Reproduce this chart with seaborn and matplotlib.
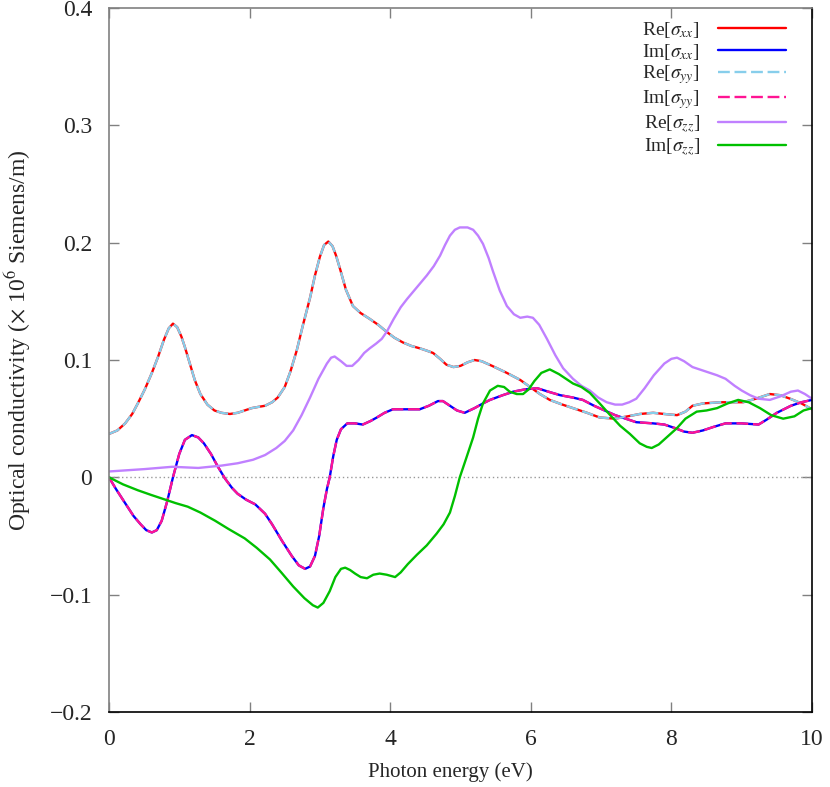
import matplotlib
matplotlib.use("Agg")
import matplotlib.pyplot as plt
import seaborn as sns
import pandas as pd

# values (photon energy in eV, conductivity in 1e6 S/m)
re_xx_e = [0.0, 0.12, 0.23, 0.33, 0.41, 0.51, 0.61, 0.7, 0.78, 0.85, 0.91, 0.97, 1.03, 1.08,
           1.15, 1.22, 1.3, 1.4, 1.5, 1.6, 1.72, 1.83, 1.93, 2.03, 2.12, 2.22, 2.32, 2.4, 2.5,
           2.58, 2.67, 2.76, 2.86, 2.93, 3.0, 3.06, 3.12, 3.18, 3.23, 3.29, 3.37, 3.47, 3.58,
           3.71, 3.83, 3.95, 4.06, 4.18, 4.3, 4.42, 4.52, 4.61, 4.71, 4.8, 4.9, 5.0, 5.1, 5.2,
           5.3, 5.45, 5.66, 5.85, 5.99, 6.13, 6.27, 6.45, 6.6, 6.8, 6.98, 7.2, 7.38, 7.55,
           7.74, 7.9, 8.08, 8.2, 8.3, 8.45, 8.7, 9.02, 9.2, 9.4, 9.55, 9.69, 9.85, 10.0]
re_xx = [0.037, 0.040, 0.046, 0.054, 0.063, 0.075, 0.089, 0.103, 0.117, 0.127, 0.131, 0.128,
         0.120, 0.111, 0.097, 0.083, 0.071, 0.062, 0.057, 0.055, 0.054, 0.055, 0.057, 0.059,
         0.060, 0.061, 0.064, 0.068, 0.077, 0.090, 0.108, 0.130, 0.153, 0.172, 0.188, 0.198,
         0.201, 0.197, 0.189, 0.177, 0.160, 0.146, 0.140, 0.135, 0.130, 0.124, 0.119, 0.115,
         0.112, 0.110, 0.108, 0.106, 0.101, 0.096, 0.094, 0.095, 0.098, 0.100, 0.099, 0.095,
         0.089, 0.083, 0.077, 0.071, 0.066, 0.062, 0.059, 0.055, 0.051, 0.050, 0.052, 0.054,
         0.055, 0.054, 0.053, 0.056, 0.061, 0.063, 0.064, 0.064, 0.067, 0.071, 0.070, 0.067,
         0.063, 0.058]

im_xx_e = [0.0, 0.1, 0.23, 0.35, 0.45, 0.53, 0.61, 0.68, 0.75, 0.83, 0.91, 1.0, 1.08, 1.18,
           1.27, 1.35, 1.45, 1.55, 1.65, 1.75, 1.83, 1.95, 2.08, 2.15, 2.22, 2.32, 2.46, 2.6,
           2.7, 2.79, 2.86, 2.93, 2.99, 3.05, 3.1, 3.14, 3.19, 3.24, 3.3, 3.39, 3.5, 3.61,
           3.72, 3.81, 3.92, 4.04, 4.2, 4.42, 4.55, 4.68, 4.75, 4.85, 4.95, 5.06, 5.2, 5.32,
           5.42, 5.6, 5.75, 5.92, 6.09, 6.25, 6.42, 6.6, 6.74, 6.9, 7.05, 7.2, 7.35, 7.5,
           7.74, 7.9, 8.05, 8.18, 8.3, 8.45, 8.6, 8.77, 9.0, 9.24, 9.35, 9.5, 9.7, 9.85, 10.0]
im_xx = [0.0, -0.010, -0.022, -0.033, -0.040, -0.045, -0.047, -0.045, -0.037, -0.020, 0.0,
         0.020, 0.032, 0.036, 0.034, 0.029, 0.020, 0.009, -0.001, -0.009, -0.014, -0.019,
         -0.023, -0.027, -0.031, -0.040, -0.054, -0.067, -0.075, -0.078, -0.076, -0.067,
         -0.050, -0.026, -0.010, 0.0, 0.018, 0.032, 0.041, 0.046, 0.046, 0.045, 0.048, 0.051,
         0.055, 0.058, 0.058, 0.058, 0.061, 0.065, 0.065, 0.061, 0.057, 0.055, 0.059, 0.063,
         0.066, 0.070, 0.073, 0.075, 0.076, 0.073, 0.070, 0.068, 0.066, 0.061, 0.057, 0.053,
         0.050, 0.047, 0.046, 0.045, 0.042, 0.039, 0.038, 0.040, 0.043, 0.046, 0.046, 0.045,
         0.049, 0.055, 0.061, 0.064, 0.066]

# yy components coincide with xx
re_yy_e, re_yy = re_xx_e, re_xx
im_yy_e, im_yy = im_xx_e, im_xx

re_zz_e = [0.0, 0.5, 0.9, 1.27, 1.6, 1.83, 2.05, 2.22, 2.38, 2.5, 2.62, 2.74, 2.86, 2.98, 3.1,
           3.16, 3.21, 3.3, 3.38, 3.46, 3.55, 3.63, 3.71, 3.8, 3.88, 3.95, 4.05, 4.15, 4.24,
           4.38, 4.52, 4.62, 4.71, 4.78, 4.85, 4.92, 4.99, 5.1, 5.18, 5.25, 5.32, 5.4, 5.46,
           5.56, 5.66, 5.76, 5.85, 5.95, 6.03, 6.12, 6.23, 6.35, 6.46, 6.6, 6.72, 6.84, 6.96,
           7.08, 7.2, 7.3, 7.4, 7.5, 7.62, 7.75, 7.9, 8.0, 8.08, 8.18, 8.3, 8.5, 8.65, 8.77,
           8.9, 9.0, 9.12, 9.24, 9.4, 9.55, 9.7, 9.8, 9.9, 10.0]
re_zz = [0.005, 0.007, 0.009, 0.008, 0.010, 0.012, 0.015, 0.019, 0.025, 0.031, 0.040, 0.053,
         0.068, 0.084, 0.097, 0.102, 0.103, 0.099, 0.095, 0.095, 0.100, 0.106, 0.110, 0.114,
         0.118, 0.124, 0.135, 0.145, 0.152, 0.162, 0.172, 0.180, 0.189, 0.198, 0.206, 0.211,
         0.213, 0.213, 0.211, 0.206, 0.199, 0.187, 0.176, 0.159, 0.146, 0.139, 0.136, 0.137,
         0.136, 0.130, 0.118, 0.104, 0.093, 0.084, 0.078, 0.074, 0.068, 0.064, 0.062, 0.062,
         0.064, 0.067, 0.076, 0.087, 0.097, 0.101, 0.102, 0.099, 0.094, 0.090, 0.087, 0.084,
         0.078, 0.074, 0.070, 0.067, 0.066, 0.069, 0.073, 0.074, 0.071, 0.067]

im_zz_e = [0.0, 0.2, 0.41, 0.6, 0.8, 0.95, 1.12, 1.3, 1.51, 1.7, 1.93, 2.1, 2.29, 2.45, 2.62,
           2.78, 2.9, 2.97, 3.05, 3.14, 3.22, 3.3, 3.36, 3.43, 3.5, 3.58, 3.67, 3.76, 3.85,
           3.95, 4.07, 4.15, 4.25, 4.38, 4.52, 4.66, 4.76, 4.85, 4.92, 4.99, 5.08, 5.18, 5.25,
           5.32, 5.42, 5.53, 5.62, 5.7, 5.8, 5.89, 5.97, 6.05, 6.15, 6.27, 6.4, 6.5, 6.6,
           6.72, 6.84, 6.98, 7.13, 7.27, 7.41, 7.55, 7.65, 7.72, 7.82, 7.95, 8.08, 8.2, 8.36,
           8.5, 8.65, 8.8, 8.95, 9.1, 9.26, 9.42, 9.59, 9.75, 9.88, 10.0]
im_zz = [0.0, -0.006, -0.011, -0.015, -0.019, -0.022, -0.025, -0.030, -0.037, -0.044, -0.052,
         -0.060, -0.070, -0.081, -0.093, -0.103, -0.109, -0.111, -0.107, -0.097, -0.085,
         -0.078, -0.077, -0.079, -0.082, -0.085, -0.086, -0.083, -0.082, -0.083, -0.085,
         -0.081, -0.074, -0.066, -0.058, -0.048, -0.040, -0.030, -0.016, 0.0, 0.016, 0.034,
         0.050, 0.063, 0.074, 0.078, 0.077, 0.073, 0.071, 0.071, 0.075, 0.082, 0.089, 0.092,
         0.088, 0.084, 0.080, 0.077, 0.072, 0.063, 0.053, 0.044, 0.037, 0.029, 0.026, 0.025,
         0.028, 0.035, 0.042, 0.050, 0.056, 0.057, 0.059, 0.063, 0.066, 0.064, 0.059, 0.053,
         0.050, 0.052, 0.057, 0.059]

series = [
    (r"Re[$\sigma_{xx}$]", re_xx_e, re_xx, "#ff0000", "-"),
    (r"Im[$\sigma_{xx}$]", im_xx_e, im_xx, "#0000ff", "-"),
    (r"Re[$\sigma_{yy}$]", re_yy_e, re_yy, "#87ceeb", (0, (5, 2))),
    (r"Im[$\sigma_{yy}$]", im_yy_e, im_yy, "#ff1493", (0, (5, 2))),
    (r"Re[$\sigma_{zz}$]", re_zz_e, re_zz, "#c080ff", "-"),
    (r"Im[$\sigma_{zz}$]", im_zz_e, im_zz, "#00c000", "-"),
]

sns.set_style("ticks")
plt.rcParams["font.family"] = ["Liberation Serif", "DejaVu Serif"]
plt.rcParams["mathtext.fontset"] = "stix"

fig = plt.figure(figsize=(8.3, 7.87), dpi=100)
ax = fig.add_axes([0.1313, 0.0953, 0.847, 0.8945])

ax.axhline(0, color="#999999", lw=1, ls=(0, (1, 2)), zorder=1)

for label, e, v, color, ls in series:
    df = pd.DataFrame({"energy": e, "sigma": v})
    sns.lineplot(data=df, x="energy", y="sigma", ax=ax, color=color, lw=1.7,
                 linestyle=ls, label=label, sort=False)

ax.set_xlim(0, 10)
ax.set_ylim(-0.2, 0.4)
ax.set_xticks([0, 2, 4, 6, 8, 10])
ax.set_yticks([-0.2, -0.1, 0, 0.1, 0.2, 0.3, 0.4])
ax.set_yticklabels(["\u22120.2", "\u22120.1", "0", "0.1", "0.2", "0.3", "0.4"])
ax.tick_params(direction="in", length=7, width=1, color="#808080", labelsize=17,
               top=True, right=True, pad=12)

for side in ["left", "top"]:
    ax.spines[side].set_color("#808080")
for side in ["bottom", "right"]:
    ax.spines[side].set_color("black")
for s in ax.spines.values():
    s.set_linewidth(1.2)

ax.set_xlabel("Photon energy (eV)", fontsize=15)
ax.set_ylabel(r"Optical conductivity ($\times$ 10$^6$ Siemens/m)", fontsize=17)
ax.xaxis.set_label_coords(0.485, -0.071)
ax.yaxis.set_label_coords(-0.108, 0.528)

ax.legend(loc="upper right", frameon=False, fontsize=14, markerfirst=False,
          handlelength=3.45, labelspacing=0.1, borderaxespad=0.2, handletextpad=0.95,
          bbox_to_anchor=(0.979, 1.0))

fig.savefig("out.png", dpi=100)
